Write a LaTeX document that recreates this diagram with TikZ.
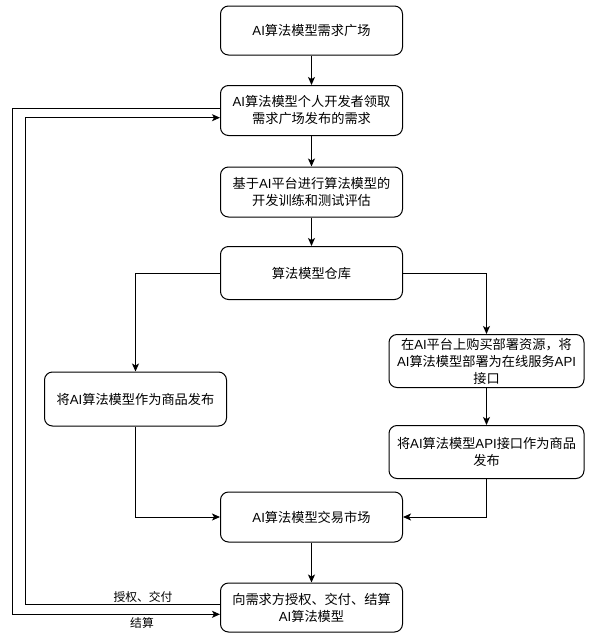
\documentclass[tikz,border=0pt]{standalone}
\usepackage{fontspec}
\setmainfont{Noto Sans CJK SC}
\newfontfamily\lat{Liberation Sans}
\usetikzlibrary{arrows.meta}
\newcommand{\A}[1]{{\lat #1}}
\begin{document}
\begin{tikzpicture}[x=1pt,y=-1pt,
  box/.style={draw,line width=1pt,rounded corners=8pt,align=center,inner sep=0pt,
    font=\fontsize{13.2}{17}\selectfont},
  lab/.style={font=\fontsize{11.8}{14}\selectfont,inner sep=0pt},
  conn/.style={line width=1pt,-{Stealth[length=8pt,width=7pt,inset=2pt]}},
  plain/.style={line width=1pt}]
\useasboundingbox (0,0) rectangle (590,638);
\node[box,minimum width=182pt,minimum height=49pt] (n1) at (311.5,30.5) {\A{AI}算法模型需求广场};
\node[box,minimum width=182pt,minimum height=50pt] (n2) at (311.5,110.5) {\A{AI}算法模型个人开发者领取\\需求广场发布的需求};
\node[box,minimum width=182pt,minimum height=50pt] (n3) at (311.5,192) {基于\A{AI}平台进行算法模型的\\开发训练和测试评估};
\node[box,minimum width=182pt,minimum height=53pt] (n4) at (311.5,273) {算法模型仓库};
\node[box,minimum width=182pt,minimum height=54pt] (nL) at (135.5,399) {将\A{AI}算法模型作为商品发布};
\node[box,minimum width=195pt,minimum height=53pt] (nR1) at (486.5,361) {在\A{AI}平台上购买部署资源，将\\\A{AI}算法模型部署为在线服务\A{API}\\接口};
\node[box,minimum width=195pt,minimum height=53pt] (nR2) at (486.5,452) {将\A{AI}算法模型\A{API}接口作为商品\\发布};
\node[box,minimum width=182pt,minimum height=50pt] (n5) at (311.5,517) {\A{AI}算法模型交易市场};
\node[box,minimum width=182pt,minimum height=49pt] (n6) at (311.5,607.5) {向需求方授权、交付、结算\\\A{AI}算法模型};

\draw[conn] (n1) -- (n2);
\draw[conn] (n2) -- (n3);
\draw[conn] (n3) -- (n4);
\draw[conn] (n4.west) -| (nL.north);
\draw[conn] (n4.east) -| (nR1.north);
\draw[conn] (nR1) -- (nR2);
\draw[conn] (nL.south) |- (n5.west);
\draw[conn] (nR2.south) |- (n5.east);
\draw[conn] (n5) -- (n6);

\coordinate (a1) at (25.7,604.3);
\coordinate (a2) at (25.7,117.7);
\draw[conn] (n6.west |- a1) -- (a1) -- (a2) -- (n2.west |- a2);
\coordinate (b1) at (12.7,108.3);
\coordinate (b2) at (12.7,614.3);
\draw[conn] (n2.west |- b1) -- (b1) -- (b2) -- (n6.west |- b2);

\node[lab] (l1) at (143,597) {授权、交付};
\node[lab] (l2) at (142,623) {结算};
\end{tikzpicture}
\end{document}
